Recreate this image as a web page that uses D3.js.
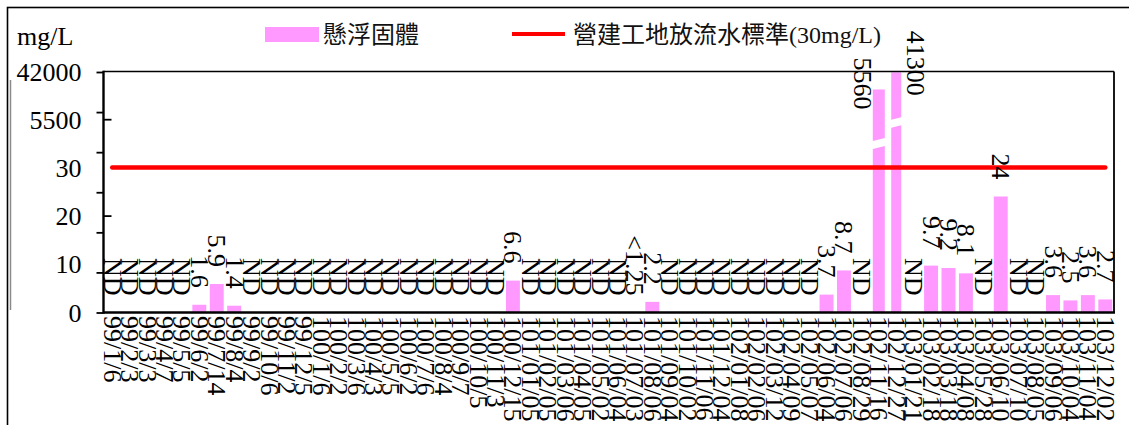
<!DOCTYPE html>
<html><head><meta charset="utf-8">
<script src="https://cdn.jsdelivr.net/npm/d3@7"></script>
<style>body{margin:0;background:#fff} svg{display:block}</style>
</head><body>
<svg id="c" width="1129" height="425"></svg>
<script>
// ---- data ----
const dates = ["99/1/6","99/2/3","99/3/3","99/4/7","99/5/5","99/6/2","99/7/14","99/8/4","99/9/2","99/10/6","99/11/2","99/12/5",
"100/1/6","100/2/2","100/3/6","100/4/3","100/5/5","100/6/2","100/7/6","100/8/4","100/9/7","100/10/5","100/11/3","100/12/15",
"101/01/05","101/02/05","101/03/06","101/04/05","101/05/02","101/06/04","101/07/03","101/08/06","101/09/04","101/10/02","101/11/06","101/12/04",
"102/01/08","102/02/06","102/03/12","102/04/09","102/05/07","102/06/04","102/07/06","102/08/29","102/11/16","102/12/27",
"103/01/21","103/02/18","103/03/18","103/04/08","103/05/28","103/06/10","103/07/10","103/08/05","103/09/06","103/10/04","103/11/04","103/12/02"];
const ssText = ["ND","ND","ND","ND","ND","1.6","5.9","1.4",
"ND","ND","ND","ND","ND","ND","ND","ND","ND","ND","ND","ND","ND","ND","ND",
"6.6","ND","ND","ND","ND","ND","ND","<1.25","2.2",
"ND","ND","ND","ND","ND","ND","ND","ND","ND",
"3.7","8.7","ND","5560","41300","ND","9.7","9.2","8.1","ND","24","ND","ND","3.6","2.5","3.6","2.7"];
const standard = 30;
const yTickLabels = ["0","10","20","30","5500","42000"];
const yBreaks = [0, 30, 5500, 42000];
const seriesNames = ["懸浮固體", "營建工地放流水標準(30mg/L)"];

// ---- layout ----
const svg = d3.select("#c");
const L = 103.5, R = 1114, T = 71.5, B = 312.5;
const serif = "'Liberation Serif','Times New Roman',serif";
const mixed = "'Liberation Serif','Noto Sans CJK TC',serif";
const pink = "#FF99FF";

const x = d3.scaleBand().domain(d3.range(dates.length)).range([L, R]).paddingInner(0.2).paddingOuter(0.1);
const cx = i => x(i) + x.bandwidth() / 2;
const yVal = d3.scaleLinear().domain(yBreaks).range([B, 167.5, 89.5, 72]);
const yLab = d3.scalePoint().domain(yTickLabels).range([B, T]);
const yTick = d3.scaleLinear().domain([0, 6]).range([B, 72]);

// outer frame
svg.append("rect").attr("x", 7.5).attr("y", 7.5).attr("width", 1400).attr("height", 600)
  .attr("fill", "none").attr("stroke", "#000").attr("stroke-width", 1.6);
svg.append("line").attr("x1", 10.5).attr("x2", 10.5).attr("y1", 80).attr("y2", 310)
  .attr("stroke", "#8a8a8a").attr("stroke-width", 1.5);

// title
svg.append("text").attr("x", 17).attr("y", 36).attr("dominant-baseline", "central")
  .attr("font-family", serif).attr("font-size", 26).text("mg/L");

// legend
svg.append("rect").attr("x", 265).attr("y", 27).attr("width", 54).attr("height", 15).attr("fill", pink);
svg.append("text").attr("x", 323).attr("y", 35).attr("dominant-baseline", "central")
  .attr("font-family", mixed).attr("font-size", 24).attr("fill", "#111").text(seriesNames[0]);
svg.append("line").attr("x1", 512).attr("x2", 565).attr("y1", 34).attr("y2", 34)
  .attr("stroke", "#FF0000").attr("stroke-width", 4);
svg.append("text").attr("x", 573).attr("y", 35).attr("dominant-baseline", "central")
  .attr("font-family", mixed).attr("font-size", 24).attr("fill", "#111").text(seriesNames[1]);

// y tick marks (outside)
const gT = svg.append("g").attr("transform", `translate(${L},0)`)
  .call(d3.axisLeft(yTick).ticks(6).tickSize(7).tickFormat(""));
gT.select(".domain").remove();
gT.selectAll("line").attr("stroke", "#000").attr("stroke-width", 1.8);

// y labels
const gL = svg.append("g").attr("transform", `translate(${L},0)`)
  .call(d3.axisLeft(yLab).tickSize(0).tickPadding(22));
gL.select(".domain").remove();
gL.selectAll("text").attr("font-family", serif).attr("font-size", 26).attr("fill", "#000")
  .attr("dy", null).attr("dominant-baseline", "central");
// inner ticks at two labels
svg.selectAll("line.itick").data(["5500", "20"]).join("line").attr("class", "itick")
  .attr("x1", L).attr("x2", L + 8).attr("y1", d => yLab(d)).attr("y2", d => yLab(d))
  .attr("stroke", "#000").attr("stroke-width", 1.8);

// bars
const vals = ssText.map(s => isNaN(+s) ? 0 : +s);
const tall = vals.map((v, i) => ({v, i})).filter(d => d.v > standard);
const tallW = k => 12 - 2 * k;
const tallRank = i => tall.findIndex(d => d.i === i);
svg.append("g").selectAll("rect").data(vals.map((v, i) => ({v, i})).filter(d => d.v > 0)).join("rect")
  .attr("x", d => d.v > standard ? cx(d.i) - tallW(tallRank(d.i)) / 2 : x(d.i))
  .attr("width", d => d.v > standard ? tallW(tallRank(d.i)) : x.bandwidth())
  .attr("y", d => yVal(d.v)).attr("height", d => yVal(0) - yVal(d.v))
  .attr("fill", pink);

// break marks on tall bars
svg.append("g").selectAll("path").data(tall).join("path")
  .attr("d", (d, k) => {
    const c = cx(d.i), m = yVal(standard) - 24 - 21 * k, h = 4, s = 2;
    const a = c - 8, b = c + 8;
    return `M${a},${m - h + s}L${b},${m - h - s}L${b},${m + h - s}L${a},${m + h + s}Z`;
  })
  .attr("fill", "#fff");

// plot frame
svg.append("line").attr("x1", L).attr("x2", R).attr("y1", T).attr("y2", T).attr("stroke", "#000").attr("stroke-width", 1.6);
svg.append("line").attr("x1", R).attr("x2", R).attr("y1", T).attr("y2", B).attr("stroke", "#000").attr("stroke-width", 1.8);
svg.append("line").attr("x1", L).attr("x2", L).attr("y1", T - 0.8).attr("y2", B + 1.2).attr("stroke", "#000").attr("stroke-width", 2.4);
svg.append("line").attr("x1", L).attr("x2", R + 1).attr("y1", B).attr("y2", B).attr("stroke", "#000").attr("stroke-width", 2.4);

// standard line
const line = d3.line().x(d => cx(d)).y(() => yVal(standard));
svg.append("path").attr("d", line(d3.range(dates.length)))
  .attr("fill", "none").attr("stroke", "#FF0000").attr("stroke-width", 4.5).attr("stroke-linecap", "round");

// data labels (tall-bar labels pushed aside, as in the original)
const tallShift = k => k === 0 ? -16 : 19;
svg.append("g").selectAll("text").data(ssText).join("text")
  .attr("transform", (s, i) => {
    const v = vals[i];
    const k = tallRank(i);
    const yy = v > standard ? yVal(v) - 6 - 3 * k : yVal(v) - 17;
    const xx = v > standard ? cx(i) + tallShift(k) : cx(i);
    return `translate(${xx},${yy}) rotate(90)`;
  })
  .attr("text-anchor", (s, i) => vals[i] > standard ? "middle" : "end")
  .attr("dominant-baseline", "central")
  .attr("font-family", serif).attr("font-size", 26).attr("fill", "#000")
  .text(s => s);

// x labels
svg.append("g").selectAll("text").data(dates).join("text")
  .attr("transform", (d, i) => `translate(${cx(i)},316) rotate(90)`)
  .attr("text-anchor", "start").attr("dominant-baseline", "central")
  .attr("font-family", serif).attr("font-size", 26).attr("fill", "#000")
  .text(d => d);
</script>
</body></html>
